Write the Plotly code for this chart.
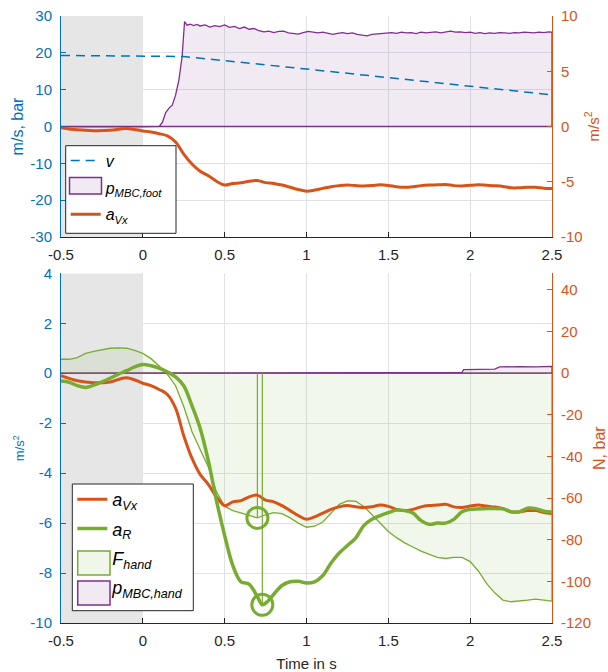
import plotly.graph_objects as go

# ---------------- data ----------------
# top panel
t_v = [-0.5, 0.0, 0.25, 1.0, 1.5, 2.0, 2.5]
v = [19.3, 19.2, 19.0, 15.6, 13.3, 11.0, 8.6]

t_foot = [-0.5, -0.3, -0.1, 0.0, 0.1, 0.12, 0.14, 0.16, 0.18, 0.2, 0.22, 0.24, 0.255, 0.27, 0.29,
          0.31, 0.33, 0.35, 0.38, 0.41, 0.44, 0.47, 0.5, 0.53, 0.56, 0.59, 0.62, 0.65, 0.68, 0.71,
          0.74, 0.77, 0.8, 0.83, 0.86, 0.89, 0.92, 0.95, 0.98, 1.01, 1.04, 1.07, 1.1, 1.13, 1.16,
          1.19, 1.22, 1.25, 1.28, 1.31, 1.34, 1.37, 1.4, 1.43, 1.46, 1.49, 1.52, 1.55, 1.58, 1.61,
          1.64, 1.67, 1.7, 1.73, 1.76, 1.79, 1.82, 1.85, 1.88, 1.91, 1.94, 1.97, 2.0, 2.03, 2.06,
          2.09, 2.12, 2.15, 2.18, 2.21, 2.24, 2.27, 2.3, 2.33, 2.36, 2.39, 2.42, 2.45, 2.48, 2.5]
p_foot = [-0.1, -0.2, -0.1, -0.1, 0.0, 1.2, 3.8, 5.0, 5.8, 8.5, 12.5, 19.0, 28.5, 27.5, 27.8,
          27.4, 27.7, 27.3, 27.6, 27.0, 27.4, 27.1, 27.6, 26.9, 27.2, 26.6, 27.0, 26.4, 26.6, 26.0,
          25.7, 25.9, 25.5, 25.8, 25.9, 25.4, 25.3, 25.1, 25.5, 25.8, 25.6, 25.4, 25.6, 25.2, 25.0,
          25.3, 25.5, 25.2, 25.4, 25.0, 24.8, 24.6, 25.0, 25.1, 25.3, 25.2, 25.5, 25.3, 25.6, 25.4,
          25.5, 25.2, 25.6, 25.4, 25.5, 25.7, 25.4, 25.6, 25.9, 25.6, 25.7, 25.5, 25.6, 25.3, 25.5,
          25.2, 25.4, 25.3, 25.5, 25.4, 25.3, 25.5, 25.4, 25.6, 25.5, 25.4, 25.6, 25.5, 25.7, 25.6]

# a_Vx (shared by both panels), m/s^2
t_a = [-0.5, -0.4, -0.3, -0.2, -0.1, 0.0, 0.05, 0.1, 0.15, 0.2, 0.25, 0.3, 0.35, 0.4, 0.45,
       0.5, 0.55, 0.6, 0.65, 0.7, 0.75, 0.8, 0.85, 0.9, 0.95, 1.0, 1.05, 1.1, 1.15, 1.2, 1.25,
       1.3, 1.35, 1.4, 1.45, 1.5, 1.55, 1.6, 1.65, 1.7, 1.75, 1.8, 1.85, 1.9, 1.95, 2.0, 2.05,
       2.1, 2.15, 2.2, 2.25, 2.3, 2.35, 2.4, 2.45, 2.5]
a_vx = [-0.1, -0.3, -0.38, -0.35, -0.18, -0.4, -0.5, -0.65, -0.85, -1.4, -2.5, -3.4, -4.05, -4.45, -4.95,
        -5.3, -5.15, -5.1, -4.95, -4.88, -5.08, -5.15, -5.3, -5.5, -5.7, -5.85, -5.75, -5.6, -5.45, -5.35, -5.3,
        -5.35, -5.38, -5.35, -5.28, -5.33, -5.45, -5.5, -5.45, -5.35, -5.3, -5.28, -5.25, -5.35, -5.38, -5.32, -5.28,
        -5.32, -5.36, -5.42, -5.55, -5.55, -5.5, -5.5, -5.58, -5.62]

# bottom panel
t_r = [-0.5, -0.45, -0.4, -0.35, -0.3, -0.25, -0.2, -0.15, -0.1, -0.05, 0.0, 0.05, 0.1, 0.15, 0.2,
       0.25, 0.3, 0.35, 0.4, 0.45, 0.5, 0.55, 0.6, 0.65, 0.7, 0.73, 0.76, 0.8, 0.85, 0.9, 0.95,
       1.0, 1.05, 1.1, 1.15, 1.2, 1.25, 1.3, 1.35, 1.4, 1.45, 1.5, 1.55, 1.6, 1.65, 1.7, 1.75,
       1.8, 1.85, 1.9, 1.95, 2.0, 2.1, 2.2, 2.25, 2.3, 2.35, 2.4, 2.45, 2.5]
a_r = [-0.31, -0.36, -0.5, -0.57, -0.48, -0.35, -0.2, -0.04, 0.1, 0.25, 0.35, 0.3, 0.2, 0.05, -0.15,
       -0.5, -1.3, -2.2, -3.5, -5.1, -6.5, -7.7, -8.35, -8.45, -8.95, -9.27, -9.15, -8.85, -8.5, -8.35, -8.33,
       -8.4, -8.35, -8.1, -7.6, -7.2, -6.9, -6.6, -6.1, -5.85, -5.7, -5.58, -5.48, -5.5, -5.6, -5.9, -6.05,
       -6.0, -6.0, -5.85, -5.55, -5.45, -5.42, -5.43, -5.55, -5.55, -5.4, -5.42, -5.52, -5.56]

t_f = [-0.5, -0.45, -0.4, -0.35, -0.3, -0.25, -0.2, -0.15, -0.1, -0.05, 0.0, 0.05, 0.1, 0.15, 0.2,
       0.25, 0.3, 0.35, 0.4, 0.45, 0.5, 0.55, 0.6, 0.65, 0.7, 0.75, 0.8, 0.85, 0.9, 0.95, 1.0,
       1.05, 1.1, 1.15, 1.2, 1.25, 1.3, 1.35, 1.4, 1.45, 1.5, 1.55, 1.6, 1.65, 1.7, 1.75, 1.8,
       1.85, 1.9, 1.95, 2.0, 2.05, 2.1, 2.15, 2.2, 2.25, 2.3, 2.35, 2.4, 2.45, 2.5]
f_hand = [6.7, 6.7, 7.5, 9.5, 10.5, 11.3, 12.0, 12.2, 12.0, 11.0, 9.5, 7.0, 3.5, -0.5, -6.0,
          -16.0, -28.0, -36.6, -45.0, -57.0, -64.0, -66.0, -67.3, -68.3, -69.5, -68.0, -67.0, -67.5, -69.5, -72.0, -74.0,
          -73.5, -71.5, -67.5, -63.0, -61.3, -61.5, -64.0, -68.0, -72.0, -76.0, -79.0, -81.5, -83.5, -85.5, -87.0, -88.5,
          -89.0, -88.5, -88.5, -90.5, -95.0, -101.0, -105.5, -109.0, -109.8, -109.5, -109.0, -108.5, -109.0, -109.5]

t_ph = [-0.5, 0.5, 1.0, 1.5, 1.9, 1.95, 1.96, 2.05, 2.15, 2.18, 2.3, 2.4, 2.5]
p_hand = [0.0, 0.2, 0.1, 0.2, 0.3, 0.4, 1.7, 1.9, 2.0, 3.0, 3.2, 3.0, 3.3]

# highlighted extrema
mark_f_t, mark_f_val = 0.70, -69.5     # F_hand, N
mark_r_t, mark_r_val = 0.73, -9.27     # a_R, m/s^2

# shaded pre-phase window (s)
pre_window = [-0.5, 0.0]

# axis ranges
x_range = [-0.5, 2.5]
y1_range = [-30, 30]
y2_range = [-10, 10]
y3_range = [-120, 48]
y4_range = [-10, 4]

# tick labels
x_ticks = [-0.5, 0, 0.5, 1, 1.5, 2, 2.5]
x_ticktext = ["-0.5", "0", "0.5", "1", "1.5", "2", "2.5"]
y1_ticks = [-30, -20, -10, 0, 10, 20, 30]
y2_ticks = [-10, -5, 0, 5, 10]
y3_ticks = [-120, -100, -80, -60, -40, -20, 0, 20, 40]
y4_ticks = [-10, -8, -6, -4, -2, 0, 2, 4]

# ---------------- style ----------------
BLUE = "#0072BD"
ORANGE = "#D95319"
PURPLE = "#7E2F8E"
GREEN = "#77AC30"
PURPLE_FILL = "rgba(126,47,142,0.1)"
GREEN_FILL = "rgba(119,172,48,0.1)"
GRID = "#dfe3e8"
SHADE = "#e6e6e6"
DARK = "#262626"
FONT = "Liberation Sans, Arial, sans-serif"

W, H = 608, 672
ML, MR, MT, MB = 61, 56, 16, 49
PW, PH = W - ML - MR, H - MT - MB


def pxx(p):  # pixel -> paper x (legend decoration placement)
    return (p - ML) / PW


def pxy(p):  # pixel -> paper y
    return (H - MB - p) / PH


def poly(t, y):
    return list(t) + list(t)[::-1], list(y) + [0] * len(t)


def band(win, rng):
    return [win[0], win[1], win[1], win[0]], [rng[0], rng[0], rng[1], rng[1]]


fig = go.Figure()

# ---- top panel ----
bx, by = band(pre_window, y1_range)
fig.add_trace(go.Scatter(x=bx, y=by, xaxis="x", yaxis="y", mode="lines", fill="toself",
                         fillcolor=SHADE, line=dict(width=0), showlegend=False, hoverinfo="skip"))
px_, py_ = poly(t_foot, p_foot)
fig.add_trace(go.Scatter(x=px_, y=py_, xaxis="x", yaxis="y", mode="lines", fill="toself",
                         fillcolor=PURPLE_FILL, line=dict(color=PURPLE, width=1.3),
                         showlegend=False, hoverinfo="skip"))
fig.add_trace(go.Scatter(x=t_v, y=v, xaxis="x", yaxis="y", mode="lines",
                         line=dict(color=BLUE, width=1.5, dash="9px,6px"),
                         name="<i>v</i>", legend="legend", legendrank=1, legendgroup="t1"))
fig.add_trace(go.Scatter(x=[None], y=[None], xaxis="x", yaxis="y", mode="lines",
                         line=dict(color="rgba(0,0,0,0)", width=0),
                         name="<i>p</i><sub><i>MBC,foot</i></sub>", legend="legend", legendrank=2,
                         legendgroup="t2"))
fig.add_trace(go.Scatter(x=t_a, y=a_vx, xaxis="x", yaxis="y2", mode="lines",
                         line=dict(color=ORANGE, width=3, shape="spline"),
                         name="<i>a</i><sub><i>Vx</i></sub>", legend="legend", legendrank=3,
                         legendgroup="t3"))

# ---- bottom panel ----
bx, by = band(pre_window, y3_range)
fig.add_trace(go.Scatter(x=bx, y=by, xaxis="x2", yaxis="y3", mode="lines", fill="toself",
                         fillcolor=SHADE, line=dict(width=0), showlegend=False, hoverinfo="skip"))
fx_, fy_ = poly(t_f, f_hand)
fig.add_trace(go.Scatter(x=fx_, y=fy_, xaxis="x2", yaxis="y3", mode="lines", fill="toself",
                         fillcolor=GREEN_FILL, line=dict(color=GREEN, width=1.3),
                         showlegend=False, hoverinfo="skip"))
hx_, hy_ = poly(t_ph, p_hand)
fig.add_trace(go.Scatter(x=hx_, y=hy_, xaxis="x2", yaxis="y3", mode="lines", fill="toself",
                         fillcolor=PURPLE_FILL, line=dict(color=PURPLE, width=1.3),
                         showlegend=False, hoverinfo="skip"))
fig.add_trace(go.Scatter(x=[mark_f_t, mark_f_t], y=[0, mark_f_val], xaxis="x2", yaxis="y3",
                         mode="lines", line=dict(color=GREEN, width=1.2), showlegend=False))
fig.add_trace(go.Scatter(x=[mark_f_t], y=[mark_f_val], xaxis="x2", yaxis="y3", mode="markers",
                         marker=dict(symbol="circle-open", size=21, color=GREEN,
                                     line=dict(width=3, color=GREEN)), showlegend=False))
fig.add_trace(go.Scatter(x=t_a, y=a_vx, xaxis="x2", yaxis="y4", mode="lines",
                         line=dict(color=ORANGE, width=3, shape="spline"),
                         name="<i>a</i><sub><i>Vx</i></sub>", legend="legend2", legendrank=1,
                         legendgroup="b1"))
fig.add_trace(go.Scatter(x=t_r, y=a_r, xaxis="x2", yaxis="y4", mode="lines",
                         line=dict(color=GREEN, width=3.5, shape="spline"),
                         name="<i>a</i><sub><i>R</i></sub>", legend="legend2", legendrank=2,
                         legendgroup="b2"))
fig.add_trace(go.Scatter(x=[None], y=[None], xaxis="x2", yaxis="y3", mode="lines",
                         line=dict(color="rgba(0,0,0,0)", width=0),
                         name="<i>F</i><sub><i>hand</i></sub>", legend="legend2", legendrank=3,
                         legendgroup="b3"))
fig.add_trace(go.Scatter(x=[None], y=[None], xaxis="x2", yaxis="y3", mode="lines",
                         line=dict(color="rgba(0,0,0,0)", width=0),
                         name="<i>p</i><sub><i>MBC,hand</i></sub>", legend="legend2", legendrank=4,
                         legendgroup="b4"))
fig.add_trace(go.Scatter(x=[mark_r_t, mark_r_t], y=[0, mark_r_val], xaxis="x2", yaxis="y4",
                         mode="lines", line=dict(color=GREEN, width=1.2), showlegend=False))
fig.add_trace(go.Scatter(x=[mark_r_t], y=[mark_r_val], xaxis="x2", yaxis="y4", mode="markers",
                         marker=dict(symbol="circle-open", size=21, color=GREEN,
                                     line=dict(width=3, color=GREEN)), showlegend=False))

# ---------------- layout ----------------
common_x = dict(range=x_range, tickvals=x_ticks, ticktext=x_ticktext, showgrid=True,
                gridcolor=GRID, gridwidth=1, zeroline=False, showline=True, linecolor=DARK,
                linewidth=1, ticks="inside", ticklen=5, tickcolor=DARK,
                tickfont=dict(size=15, color=DARK, family=FONT), ticklabelstandoff=4,
                automargin=False)


def yax(color, ticks, rng, grid, side, title, tsize, standoff):
    return dict(range=rng, tickvals=ticks, ticktext=[str(t) for t in ticks], showgrid=grid,
                gridcolor=GRID, gridwidth=1, zeroline=False, showline=True, linecolor=color,
                linewidth=1, ticks="inside", ticklen=5, tickcolor=color, side=side,
                tickfont=dict(size=15, color=color, family=FONT), ticklabelstandoff=5,
                title=dict(text=title, font=dict(size=tsize, color=color, family=FONT),
                           standoff=standoff),
                automargin=False)


top_dom = [pxy(237), 1.0]
bot_dom = [0.0, pxy(273.3)]


def rect(x0, y0, x1, y1, fill, line_color, lw):
    return dict(type="rect", xref="paper", yref="paper", x0=pxx(x0), x1=pxx(x1),
                y0=pxy(y1), y1=pxy(y0), fillcolor=fill, line=dict(color=line_color, width=lw),
                layer="above")


shapes = [
    # legend frames and filled-area keys
    rect(65.7, 145.7, 176, 233.3, "white", DARK, 1),
    rect(69.5, 177.5, 101.5, 194, "#f2eaf3", PURPLE, 1.5),
    rect(72.3, 484, 193.3, 610.7, "white", DARK, 1),
    rect(77.7, 551, 110, 575, "#f1f6ea", GREEN, 1.5),
    rect(77.7, 581, 110, 605, "#f2eaf3", PURPLE, 1.5),
]

leg_common = dict(xanchor="left", yanchor="top", bgcolor="rgba(0,0,0,0)", borderwidth=0,
                  itemwidth=30, traceorder="grouped")

fig.update_layout(
    width=W, height=H,
    margin=dict(l=ML, r=MR, t=MT, b=MB),
    paper_bgcolor="white", plot_bgcolor="white",
    font=dict(family=FONT, color=DARK),
    showlegend=True,
    xaxis=dict(common_x, domain=[0, 1], anchor="y"),
    yaxis=dict(yax(BLUE, y1_ticks, y1_range, True, "left", "m/s, bar", 16, 2),
               domain=top_dom, anchor="x"),
    yaxis2=dict(yax(ORANGE, y2_ticks, y2_range, False, "right", "m/s<sup>2</sup>", 15, 6),
                overlaying="y", anchor="x"),
    xaxis2=dict(common_x, domain=[0, 1], anchor="y3",
                title=dict(text="Time in s", font=dict(size=15, color=DARK, family=FONT), standoff=15)),
    yaxis3=dict(yax(ORANGE, y3_ticks, y3_range, False, "right", "N, bar", 16, 6),
                domain=bot_dom, anchor="x2"),
    yaxis4=dict(yax(BLUE, y4_ticks, y4_range, True, "left", "m/s<sup>2</sup>", 13, 2),
                overlaying="y3", anchor="x2"),
    legend=dict(leg_common, x=pxx(65.7), y=pxy(145.7) + 2 / PH, tracegroupgap=3,
                font=dict(size=16, color="black", family=FONT)),
    legend2=dict(leg_common, x=pxx(72.3), y=pxy(484) + 3 / PH, tracegroupgap=3,
                 font=dict(size=18, color="black", family=FONT)),
    shapes=shapes,
)

fig.write_html("out.html", config={"displayModeBar": False},
               post_script="document.body.style.margin='0';")
